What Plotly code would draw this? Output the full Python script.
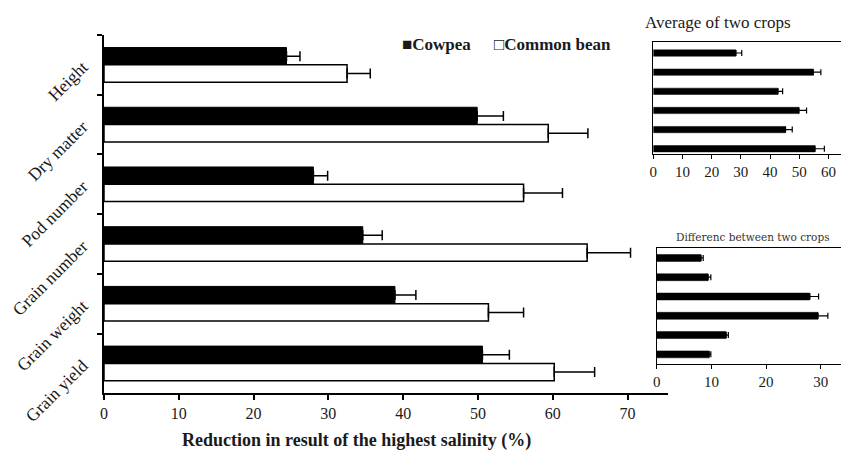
import plotly.graph_objects as go

W, H = 841, 458

# Traits measured on both crops (top to bottom)
categories = ["Height", "Dry matter", "Pod number", "Grain number", "Grain weight", "Grain yield"]

# Reduction (%) at the highest salinity level, with standard errors
cowpea = [24.4, 49.9, 28.0, 34.6, 38.9, 50.6]
cowpea_err = [1.8, 3.5, 1.9, 2.6, 2.8, 3.6]
common_bean = [32.5, 59.4, 56.1, 64.6, 51.4, 60.2]
common_bean_err = [3.1, 5.3, 5.2, 5.8, 4.7, 5.4]

# Inset panels
average = [28.3, 54.8, 42.7, 49.9, 45.3, 55.4]
average_err = [2.0, 2.6, 1.6, 2.6, 2.3, 3.2]
difference = [8.1, 9.4, 28.0, 29.5, 12.7, 9.6]
difference_err = [0.4, 0.5, 1.6, 1.8, 0.4, 0.3]

main_ticks = [0, 10, 20, 30, 40, 50, 60, 70]
avg_ticks = [0, 10, 20, 30, 40, 50, 60]
diff_ticks = [0, 10, 20, 30]

SERIF = "Liberation Serif"
INK = "#1a1a1a"


def px(x):
    return x / W


def py(y):
    return 1 - y / H


def plus_err(vals, thick=1.5, cap=5):
    return dict(type="data", array=vals, arrayminus=[0] * len(vals), symmetric=False,
                color="black", thickness=thick, width=cap)


fig = go.Figure()

fig.add_trace(go.Bar(
    y=categories, x=cowpea, name="Cowpea", orientation="h",
    marker=dict(color="black", line=dict(color="black", width=1)),
    error_x=plus_err(cowpea_err), xaxis="x", yaxis="y", showlegend=False,
))
fig.add_trace(go.Bar(
    y=categories, x=common_bean, name="Common bean", orientation="h",
    marker=dict(color="white", line=dict(color="black", width=1.5)),
    error_x=plus_err(common_bean_err), xaxis="x", yaxis="y", showlegend=False,
))
fig.add_trace(go.Bar(
    y=categories, x=average, name="Average of two crops", orientation="h", width=0.33,
    marker=dict(color="black", line=dict(color="black", width=0.5)),
    error_x=plus_err(average_err, 1.2, 3), xaxis="x2", yaxis="y2", showlegend=False,
))
fig.add_trace(go.Bar(
    y=categories, x=difference, name="Differenc between two crops", orientation="h", width=0.36,
    marker=dict(color="black", line=dict(color="black", width=0.5)),
    error_x=plus_err(difference_err, 1.2, 3), xaxis="x3", yaxis="y3", showlegend=False,
))

axis_common = dict(showgrid=False, zeroline=False, showline=True, linecolor="black",
                   ticks="outside", tickcolor="black", automargin=False)
inset_y = dict(showgrid=False, zeroline=False, showline=True, linecolor="black", linewidth=1.3,
               type="category", categoryarray=categories, showticklabels=False, ticks="",
               automargin=False)

fig.update_layout(
    width=W, height=H,
    margin=dict(l=0, r=0, t=0, b=0, autoexpand=False),
    paper_bgcolor="white", plot_bgcolor="white",
    barmode="group", bargap=0.42, bargroupgap=0,
    font=dict(family=SERIF, color=INK),
    xaxis=dict(**axis_common, domain=[px(104), px(668.3)], range=[0, 75.45],
               tickvals=main_ticks, linewidth=1.6, ticklen=5, tickwidth=1.5,
               tickfont=dict(size=16, family=SERIF, color=INK), anchor="y"),
    yaxis=dict(**axis_common, domain=[py(393.3), py(35)], type="category",
               categoryarray=categories, range=[5.5, -0.5], tickson="boundaries",
               linewidth=1.6, ticklen=5, tickwidth=1.5, tickangle=-45,
               ticklabelstandoff=16,
               tickfont=dict(size=17.5, family=SERIF, color=INK), anchor="x"),
    xaxis2=dict(**axis_common, domain=[px(653.3), 1.0], range=[0, 64.3], mirror=True,
                tickvals=avg_ticks, linewidth=1.3, ticklen=4, tickwidth=1.2,
                tickfont=dict(size=15, family=SERIF, color=INK), anchor="y2"),
    yaxis2=dict(**inset_y, domain=[py(154.3), py(42.3)], range=[5.29, -0.56], anchor="x2"),
    xaxis3=dict(**axis_common, domain=[px(656.7), 1.0], range=[0, 33.7], mirror=True,
                tickvals=diff_ticks, linewidth=1.3, ticklen=4, tickwidth=1.2,
                tickfont=dict(size=15, family=SERIF, color=INK), anchor="y3"),
    yaxis3=dict(**inset_y, domain=[py(364), py(248.3)], range=[5.5, -0.5], anchor="x3"),
)

annotations = [
    dict(text="<b>■Cowpea</b>", x=px(400), y=py(45), xanchor="left",
         font=dict(size=17, family=SERIF, color=INK)),
    dict(text="<b>□Common bean</b>", x=px(492), y=py(45), xanchor="left",
         font=dict(size=17, family=SERIF, color=INK)),
    dict(text="<b>Reduction in result of the highest salinity (%)</b>", x=px(356.5), y=py(440),
         xanchor="center", font=dict(size=18, family=SERIF, color=INK)),
    dict(text="Average of two crops", x=px(717.8), y=py(22.7), xanchor="center",
         font=dict(size=17, family=SERIF, color=INK)),
    dict(text="Differenc between two crops", x=px(753.3), y=py(237.3), xanchor="center",
         font=dict(size=10.5, family="DejaVu Serif", color="#333")),
]
for a in annotations:
    a.update(xref="paper", yref="paper", yanchor="middle", showarrow=False)
fig.update_layout(annotations=annotations)

fig.write_html("out.html")
